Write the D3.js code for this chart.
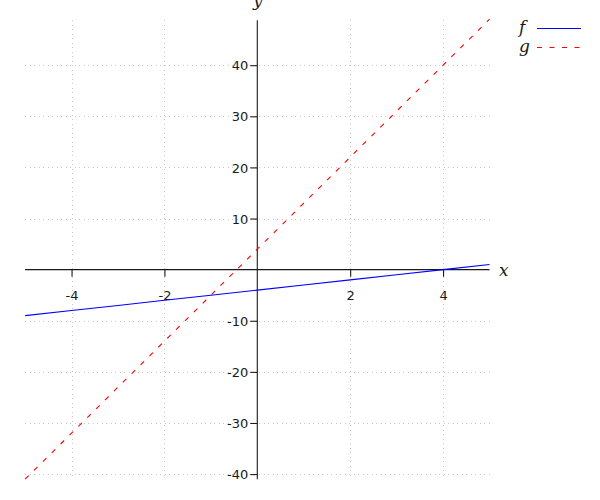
<!DOCTYPE html>
<html>
<head>
<meta charset="utf-8">
<script src="https://cdn.jsdelivr.net/npm/d3@7"></script>
<style>
  body { margin: 0; background: #fff; }
  svg { display: block; }
  .tick text { font-family: "DejaVu Sans", sans-serif; font-size: 13px; }
  .math { font-family: "DejaVu Serif", "Liberation Serif", serif; font-style: italic; font-size: 17px; }
</style>
</head>
<body>
<svg id="chart" width="600" height="500"></svg>
<script>
// ---- data ----
const xValues = [-5, -4, -3, -2, -1, 0, 1, 2, 3, 4, 5];
const fValues = [-9, -8, -7, -6, -5, -4, -3, -2, -1, 0, 1];
const gValues = [-41, -32, -23, -14, -5, 4, 13, 22, 31, 40, 49];
const seriesNames = ["f", "g"];
const xTicks = [-4, -2, 2, 4];
const yTicks = [-40, -30, -20, -10, 10, 20, 30, 40];
const xDomain = [-5, 5];
const yDomain = [-41, 49];

// ---- drawing ----
const svg = d3.select("#chart");
const x = d3.scaleLinear().domain(xDomain).range([25.1, 489.5]);
const y = d3.scaleLinear().domain(yDomain).range([479.2, 19.2]);
const fmt = d => String(d);
const textCol = "#1a1a1a";

// grid
const grid = svg.append("g").attr("stroke", "#c8c8c8").attr("stroke-width", 1)
  .attr("stroke-dasharray", "1,3.5").attr("shape-rendering", "crispEdges");
grid.selectAll("line.h").data(yTicks).enter().append("line")
  .attr("x1", x(xDomain[0])).attr("x2", x(xDomain[1]))
  .attr("y1", d => Math.round(y(d)) + 0.5).attr("y2", d => Math.round(y(d)) + 0.5);
grid.selectAll("line.v").data(xTicks).enter().append("line")
  .attr("y1", y(yDomain[1]) + 1).attr("y2", y(yDomain[0]))
  .attr("x1", d => Math.round(x(d)) + 0.5).attr("x2", d => Math.round(x(d)) + 0.5);

// axes through origin
const xAxis = d3.axisBottom(x).tickValues(xTicks).tickFormat(fmt).tickSize(7).tickPadding(14);
const yAxis = d3.axisLeft(y).tickValues(yTicks).tickFormat(fmt).tickSize(7).tickPadding(2);

const gx = svg.append("g").attr("transform", `translate(0,${y(0)})`).call(xAxis);
const gy = svg.append("g").attr("transform", `translate(${x(0)},0)`).call(yAxis);
[gx, gy].forEach(g => {
  g.attr("font-family", "DejaVu Sans").attr("font-size", 13);
  g.select(".domain").attr("stroke", textCol).attr("stroke-width", 1.1);
  g.selectAll(".tick line").attr("stroke", textCol).attr("stroke-width", 1.1);
  g.selectAll(".tick text").attr("fill", textCol);
});
gy.select(".domain").attr("d", `M0,${y(yDomain[1]) + 1}V${y(yDomain[0])}`);
gx.select(".domain").attr("d", `M${x(xDomain[0])},0H${x(xDomain[1])}`);
gy.selectAll(".tick text").attr("dy", "0.36em");

// axis labels
svg.append("text").attr("class", "math").attr("x", 499).attr("y", 276).text("x").attr("fill", textCol);
svg.append("text").attr("class", "math").attr("x", 253).attr("y", 6).text("y").attr("fill", textCol);

// lines
const pts = vals => xValues.map((xv, i) => [xv, vals[i]]);
const line = d3.line().x(d => x(d[0])).y(d => y(d[1]));
svg.append("path").datum(pts(fValues)).attr("d", line)
  .attr("fill", "none").attr("stroke", "#0000ff").attr("stroke-width", 1.1);
svg.append("path").datum(pts(gValues)).attr("d", line)
  .attr("fill", "none").attr("stroke", "#ff0000").attr("stroke-width", 1.1)
  .attr("stroke-dasharray", "5,7.5");

// legend
const legend = svg.append("g");
const styles = [{ stroke: "#0000ff", dash: null, y: 28 }, { stroke: "#ff0000", dash: "5,7.5", y: 47 }];
seriesNames.forEach((name, i) => {
  const s = styles[i];
  legend.append("text").attr("class", "math").attr("x", 519).attr("y", s.y + 5).text(name).attr("fill", textCol);
  legend.append("line").attr("x1", 537).attr("x2", 581).attr("y1", s.y + 0.5).attr("y2", s.y + 0.5)
    .attr("stroke", s.stroke).attr("stroke-width", 1.1).attr("stroke-dasharray", s.dash);
});
</script>
</body>
</html>
